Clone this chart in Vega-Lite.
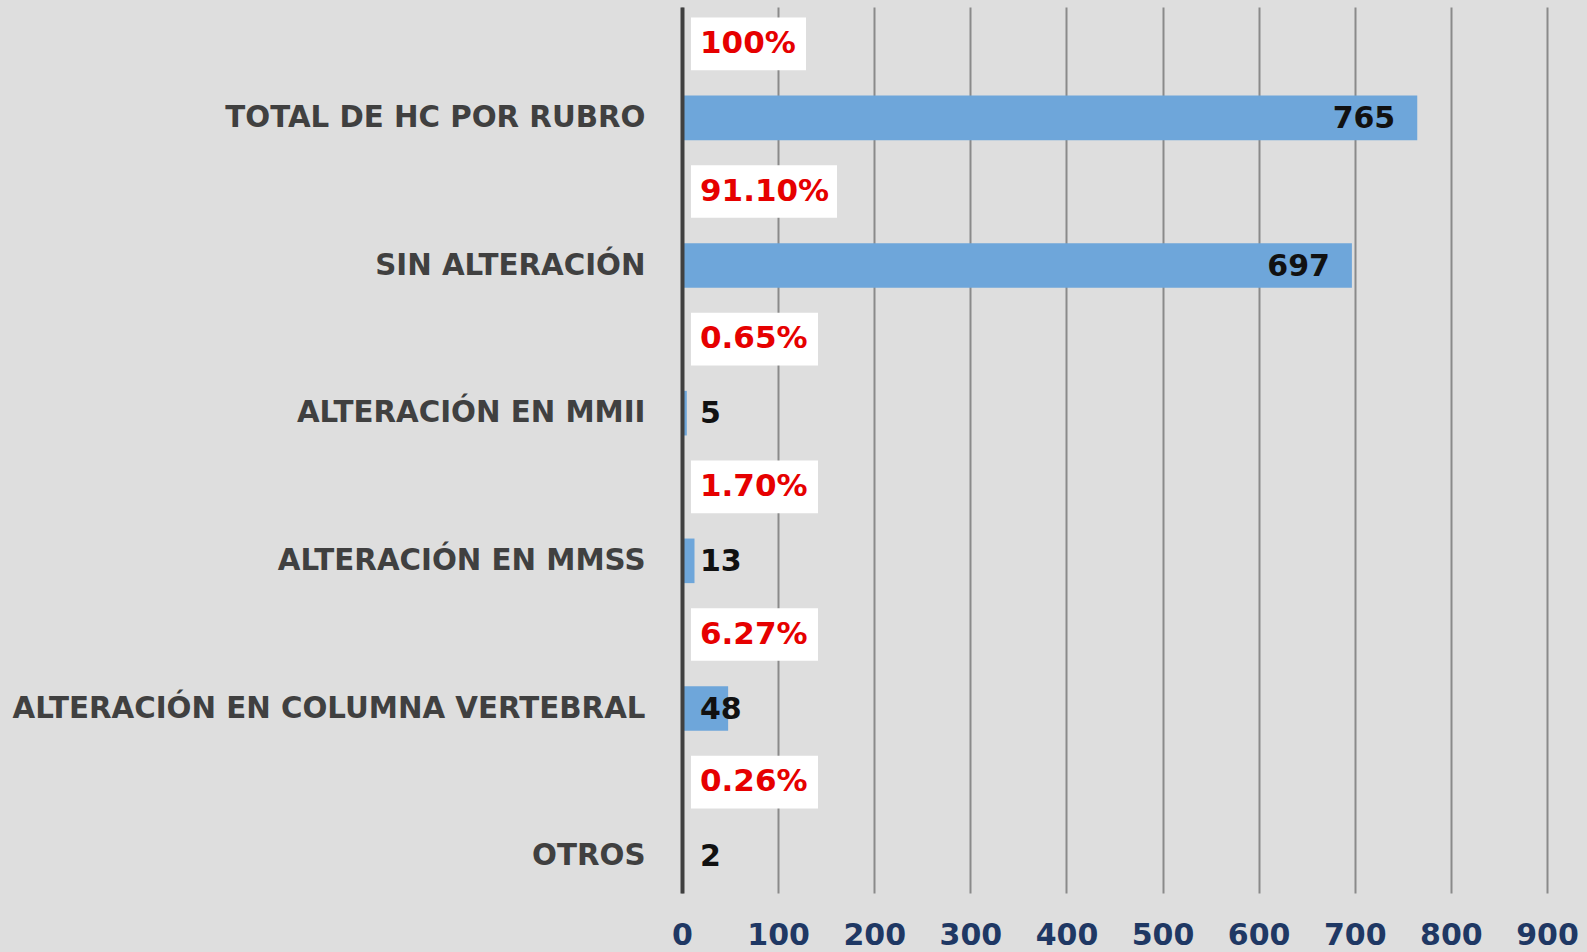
{
  "$schema": "https://vega.github.io/schema/vega-lite/v6.json",
  "width": 865,
  "height": 886,
  "autosize": "none",
  "padding": {"left": 682, "top": 7, "right": 40, "bottom": 59},
  "background": "#dedede",
  "config": {"view": {"stroke": null}, "font": "DejaVu Sans"},
  "data": {
    "values": [
      {"cat": "TOTAL DE HC POR RUBRO", "n": 765, "pct": "100%"},
      {"cat": "SIN ALTERACIÓN", "n": 697, "pct": "91.10%"},
      {"cat": "ALTERACIÓN EN MMII", "n": 5, "pct": "0.65%"},
      {"cat": "ALTERACIÓN EN MMSS", "n": 13, "pct": "1.70%"},
      {"cat": "ALTERACIÓN EN COLUMNA VERTEBRAL", "n": 48, "pct": "6.27%"},
      {"cat": "OTROS", "n": 2, "pct": "0.26%"}
    ]
  },
  "encoding": {
    "y": {
      "field": "cat",
      "type": "nominal",
      "sort": null,
      "scale": {"paddingInner": 0, "paddingOuter": 0},
      "axis": {
        "title": null,
        "domainColor": "#404040",
        "domainWidth": 4,
        "ticks": false,
        "grid": false,
        "labelPadding": 37,
        "labelOffset": 37,
        "labelFont": "DejaVu Sans",
        "labelFontWeight": "bold",
        "labelFontSize": 29.3,
        "labelColor": "#404040",
        "labelLimit": 0,
        "zindex": 1
      }
    }
  },
  "layer": [
    {
      "mark": {"type": "bar", "height": {"band": 0.302}, "yOffset": 37, "color": "#6ea6da"},
      "encoding": {
        "x": {
          "field": "n",
          "type": "quantitative",
          "scale": {"domain": [0, 900], "nice": false},
          "axis": {
            "title": null,
            "values": [0, 100, 200, 300, 400, 500, 600, 700, 800, 900],
            "grid": true,
            "gridColor": "#8a8a8a",
            "gridWidth": 2,
            "domain": false,
            "ticks": false,
            "labelFlush": false,
            "labelOverlap": false,
            "labelPadding": 27,
            "labelBaseline": "top",
            "labelFont": "DejaVu Sans",
            "labelFontWeight": "bold",
            "labelFontSize": 30,
            "labelColor": "#1f3864"
          }
        }
      }
    },
    {
      "mark": {"type": "point", "filled": true, "color": "white", "opacity": 1, "size": 40000, "yOffset": -37, "strokeWidth": 0},
      "encoding": {
        "x": {"datum": 0, "type": "quantitative"},
        "shape": {
          "field": "pct",
          "type": "nominal",
          "scale": {
            "domain": ["100%", "91.10%", "0.65%", "1.70%", "6.27%", "0.26%"],
            "range": [
              "M0.09,-0.263H1.24V0.263H0.09Z",
              "M0.09,-0.263H1.55V0.263H0.09Z",
              "M0.09,-0.263H1.36V0.263H0.09Z",
              "M0.09,-0.263H1.36V0.263H0.09Z",
              "M0.09,-0.263H1.36V0.263H0.09Z",
              "M0.09,-0.263H1.36V0.263H0.09Z"
            ]
          },
          "legend": null
        }
      }
    },
    {
      "mark": {"type": "text", "align": "left", "baseline": "middle", "dx": 18, "yOffset": -37, "font": "DejaVu Sans", "fontWeight": "bold", "fontSize": 31, "color": "#e60000"},
      "encoding": {
        "x": {"datum": 0, "type": "quantitative"},
        "text": {"field": "pct"}
      }
    },
    {
      "transform": [{"filter": "datum.n < 100"}],
      "mark": {"type": "text", "align": "left", "baseline": "middle", "dx": 18, "yOffset": 38, "font": "DejaVu Sans", "fontWeight": "bold", "fontSize": 30, "color": "#111111"},
      "encoding": {
        "x": {"datum": 0, "type": "quantitative"},
        "text": {"field": "n"}
      }
    },
    {
      "transform": [{"filter": "datum.n >= 100"}],
      "mark": {"type": "text", "align": "right", "baseline": "middle", "dx": -22, "yOffset": 38, "font": "DejaVu Sans", "fontWeight": "bold", "fontSize": 30, "color": "#111111"},
      "encoding": {
        "x": {"field": "n", "type": "quantitative"},
        "text": {"field": "n"}
      }
    }
  ]
}
